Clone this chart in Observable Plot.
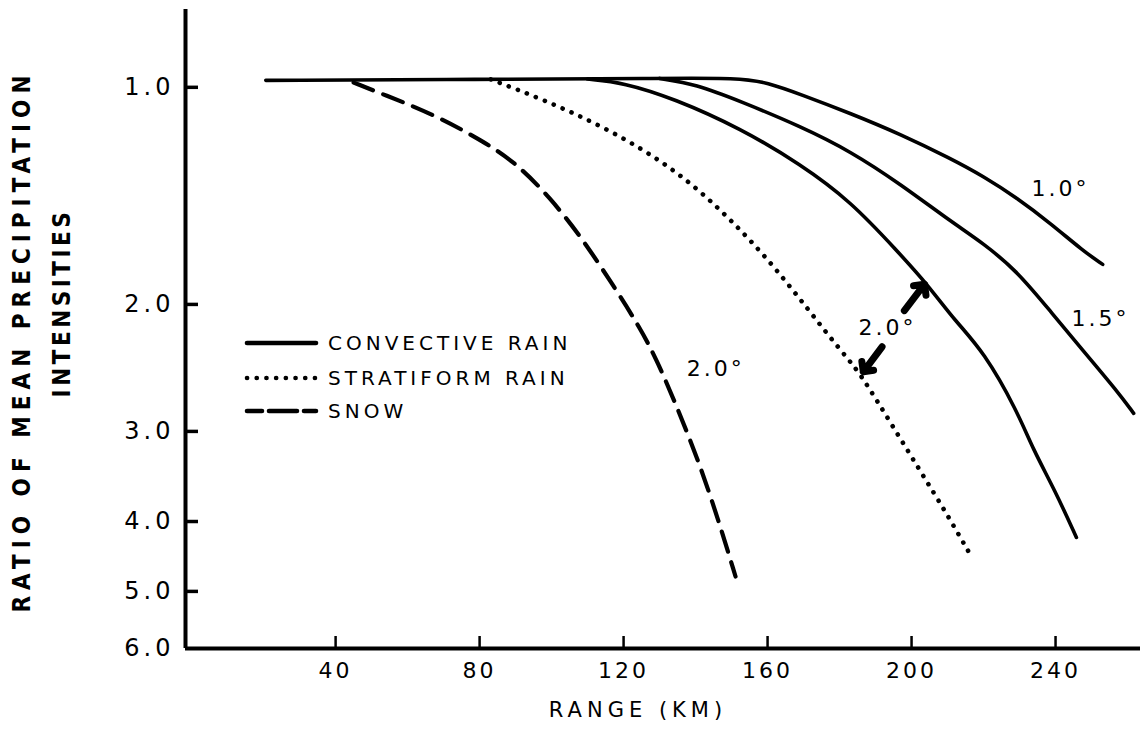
<!DOCTYPE html>
<html>
<head>
<meta charset="utf-8">
<script src="https://cdn.jsdelivr.net/npm/d3@7"></script>
<script src="https://cdn.jsdelivr.net/npm/@observablehq/plot@0.6"></script>
<style>
  html, body { margin: 0; padding: 0; background: #fff; }
  #wrap { position: relative; width: 1140px; height: 742px; overflow: hidden; }
  #legend { position: absolute; left: 0; top: 0; }
  g[aria-label="y-axis tick label"] text { letter-spacing: 4px; }
  g[aria-label="x-axis tick label"] text { letter-spacing: 3px; }
  #legend text { letter-spacing: 4px; }
</style>
</head>
<body>
<div id="wrap"></div>
<script>
// ---- tick values ----
const xTicks = [40, 80, 120, 160, 200, 240];
const yTicks = [1, 2, 3, 4, 5, 6];

// ---- convective rain, 1.0 deg ----
const conv10X = [20.6, 80.3, 130.0, 152.0, 160.0, 169.2, 183.1, 197.0, 210.8, 220.0, 229.4, 238.6, 247.8, 253.1];
const conv10Y = [0.978, 0.975, 0.972, 0.970, 0.985, 1.023, 1.087, 1.162, 1.255, 1.329, 1.425, 1.544, 1.688, 1.760];

// ---- convective rain, 1.5 deg ----
const conv15X = [130.0, 140.0, 152.5, 169.2, 183.1, 197.0, 210.8, 220.0, 229.4, 238.6, 247.8, 257.2, 261.7];
const conv15Y = [0.972, 0.990, 1.046, 1.133, 1.227, 1.363, 1.534, 1.646, 1.800, 2.045, 2.323, 2.640, 2.832];

// ---- convective rain, 2.0 deg ----
const conv20X = [110.0, 120.0, 133.9, 152.5, 169.2, 183.1, 196.1, 204.4, 212.2, 220.0, 229.4, 233.6, 240.0, 245.8];
const conv20Y = [0.974, 0.985, 1.036, 1.140, 1.279, 1.439, 1.688, 1.876, 2.112, 2.323, 2.814, 3.167, 3.635, 4.209];

// ---- stratiform rain, 2.0 deg ----
const stratX = [83.1, 96.9, 115.6, 133.9, 146.9, 158.1, 164.4, 171.1, 176.7, 182.2, 185.8, 191.4, 202.5, 209.4, 215.8];
const stratY = [0.975, 1.036, 1.140, 1.295, 1.476, 1.688, 1.841, 2.026, 2.201, 2.376, 2.501, 2.770, 3.410, 3.874, 4.401];

// ---- snow, 2.0 deg ----
const snowX = [45.0, 53.3, 67.2, 81.1, 90.6, 99.7, 108.1, 116.4, 124.7, 129.4, 135.0, 141.4, 146.9, 151.1];
const snowY = [0.985, 1.023, 1.090, 1.188, 1.279, 1.425, 1.610, 1.858, 2.159, 2.399, 2.787, 3.356, 4.063, 4.768];

// ---- angle annotations ----
const annoText = ["1.0°", "1.5°", "2.0°", "2.0°"];
const annoX = [241.4, 252.5, 193.3, 145.6];
const annoY = [1.385, 2.098, 2.159, 2.461];

// ---- arrows from the shared 2.0° label ----
const arrowX1 = [198.0, 191.8];
const arrowY1 = [2.040, 2.290];
const arrowX2 = [203.6, 186.6];
const arrowY2 = [1.875, 2.480];

// ---- legend ----
const legendNames = ["CONVECTIVE RAIN", "STRATIFORM RAIN", "SNOW"];

// ---- titles ----
const yTitle1 = "RATIO OF MEAN PRECIPITATION";
const yTitle2 = "INTENSITIES";
const xTitle = "RANGE (KM)";

// ---- build tables ----
const zipXY = (xs, ys) => xs.map((x, i) => ({x, y: ys[i]}));
const conv10 = zipXY(conv10X, conv10Y);
const conv15 = zipXY(conv15X, conv15Y);
const conv20 = zipXY(conv20X, conv20Y);
const strat = zipXY(stratX, stratY);
const snow = zipXY(snowX, snowY);
const annos = annoText.map((t, i) => ({t, x: annoX[i], y: annoY[i]}));
const arrows = arrowX1.map((x1, i) => ({x1, y1: arrowY1[i], x2: arrowX2[i], y2: arrowY2[i]}));

const W = 1140, H = 742, mL = 185, mR = 0, mT = 9, mB = 94;
const frameW = W - mL - mR, frameH = H - mT - mB;
const xDomain = [-1.7, 263.6];
const yDomain = [0.78, 6];
const FONT = "'DejaVu Sans', 'Liberation Sans', sans-serif";
const TITLEFONT = "'DejaVu Sans Condensed', 'Liberation Sans Narrow', 'DejaVu Sans', sans-serif";

const solid = {x: "x", y: "y", stroke: "black", strokeWidth: 3.6, curve: "basis", strokeLinecap: "round"};

const chart = Plot.plot({
  width: W, height: H,
  marginLeft: mL, marginRight: mR, marginTop: mT, marginBottom: mB,
  x: {domain: xDomain},
  y: {type: "log", domain: yDomain, reverse: true},
  style: {fontFamily: FONT, background: "white", color: "black", overflow: "visible"},
  marks: [
    // axis lines
    Plot.ruleX([xDomain[0]], {stroke: "black", strokeWidth: 4}),
    Plot.ruleY([yDomain[1]], {stroke: "black", strokeWidth: 4}),
    // inward ticks
    Plot.tickY(yTicks.slice(0, 5), {y: d => d, insetRight: frameW - 13, stroke: "black", strokeWidth: 3.5}),
    Plot.tickX(xTicks, {x: d => d, insetTop: frameH - 12, stroke: "black", strokeWidth: 2.5}),
    // tick labels
    Plot.axisY({ticks: yTicks, tickSize: 0, tickPadding: 11, tickFormat: d => d.toFixed(1), fontSize: 24, label: null}),
    Plot.axisX({ticks: xTicks, tickSize: 0, tickPadding: 14, tickFormat: d => String(d), fontSize: 22, label: null}),
    // curves
    Plot.line(conv10, solid),
    Plot.line(conv15, solid),
    Plot.line(conv20, solid),
    Plot.line(strat, {x: "x", y: "y", stroke: "black", strokeWidth: 4.6, curve: "basis", strokeLinecap: "round", strokeDasharray: "0.1 9.6"}),
    Plot.line(snow, {x: "x", y: "y", stroke: "black", strokeWidth: 4.2, curve: "basis", strokeDasharray: "21 11"}),
    // annotations
    Plot.text(annos, {x: "x", y: "y", text: "t", fontSize: 22}),
    Plot.arrow(arrows, {x1: "x1", y1: "y1", x2: "x2", y2: "y2", stroke: "black", strokeWidth: 7, headLength: 12, headAngle: 90}),
    // axis titles
    Plot.text([yTitle1], {frameAnchor: "left", textAnchor: "middle", lineAnchor: "middle", rotate: -90, dx: -163, dy: 12, fontSize: 24, fontWeight: "bold", fontFamily: TITLEFONT}),
    Plot.text([yTitle2], {frameAnchor: "left", textAnchor: "middle", lineAnchor: "middle", rotate: -90, dx: -123, dy: -26, fontSize: 24, fontWeight: "bold", fontFamily: TITLEFONT}),
    Plot.text([xTitle], {frameAnchor: "bottom", textAnchor: "middle", lineAnchor: "middle", dx: -25, dy: 62, fontSize: 21})
  ]
});

// letter spacing for specific texts (by content)
const spacing = new Map([[yTitle1, "6px"], [yTitle2, "3.5px"], [xTitle, "5px"]]);
annoText.forEach(t => spacing.set(t, "3px"));
d3.select(chart).selectAll("text").each(function() {
  const s = spacing.get(this.textContent);
  if (s) this.style.letterSpacing = s;
});

const wrap = document.getElementById("wrap");
wrap.appendChild(chart);

// legend overlay
const lg = d3.select(wrap).append("svg").attr("id", "legend").attr("width", W).attr("height", H);
const lgY = [343, 378, 411];
const dashes = [null, "0.1 9.6", "15 7 28 7 12 100"];
legendNames.forEach((name, i) => {
  lg.append("line").attr("x1", 247).attr("x2", 316).attr("y1", lgY[i]).attr("y2", lgY[i])
    .attr("stroke", "black").attr("stroke-width", 4.6)
    .attr("stroke-linecap", "round")
    .attr("stroke-dasharray", dashes[i]);
  lg.append("text").attr("x", 328).attr("y", lgY[i]).attr("dy", "0.36em")
    .attr("font-family", FONT).attr("font-size", 20).text(name);
});
</script>
</body>
</html>
